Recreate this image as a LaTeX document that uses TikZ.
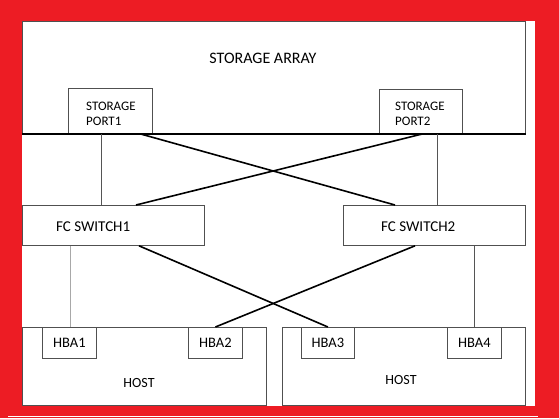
\documentclass[tikz,border=0pt]{standalone}
\usepackage{fontspec}
\setmainfont{Carlito}
\usetikzlibrary{positioning}

\begin{document}
\begin{tikzpicture}[x=1pt,y=-1pt,
    box/.style={draw=boxColour, line width=0.8pt, inner sep=0pt, anchor=north west},
    hbabox/.style={box, minimum width=54, minimum height=31, font=\fontsize{14.5}{16}\selectfont},
    boxtext/.style={inner sep=0pt, font=\fontsize{#1}{#1}\selectfont},
    portlink/.style={draw=linkColour, line width=0.7pt},
    crosslink/.style={draw=black, line width=1.6pt}]

    \definecolor{frameColour}{HTML}{ED1C24}
    \definecolor{boxColour}{HTML}{505050}
    \definecolor{linkColour}{HTML}{555555}
    \definecolor{paleColour}{HTML}{A8A8A8}

    % Draw red frame and white sheet
    \fill[frameColour] (0,0) rectangle (559,418);
    \fill[white] (22,21) rectangle (535,406);
    \draw[white, line width=0.8pt] (8,416) -- (538,416);

    % Storage array with its two ports
    \node[box, minimum width=503, minimum height=112] (array) at (22,21) {};
    \node[boxtext=16] (arraytext) at (263,58) {STORAGE ARRAY};
    \node[box, minimum width=84, minimum height=45] (port1) at (68,88) {};
    \node[box, minimum width=83, minimum height=44] (port2) at (379,89) {};
    \node[boxtext=13, align=left, anchor=west, text height=9pt] (port1text) at (86,121) {STORAGE\\[2pt]PORT1};
    \node[boxtext=13, align=left, anchor=west, text height=9pt] (port2text) at (395,121) {STORAGE\\[2pt]PORT2};
    \draw[black, line width=2.2pt] (array.south west) -- (array.south east);

    % Switches
    \node[box, minimum width=182, minimum height=40] (switch1) at (22,205) {};
    \node[box, minimum width=182, minimum height=40] (switch2) at (343,205) {};
    \node[boxtext=15, anchor=west] (switch1text) at (56,227) {FC SWITCH1};
    \node[boxtext=15, anchor=west] (switch2text) at (381,227) {FC SWITCH2};

    % Hosts and their adapters
    \node[box, minimum width=244, minimum height=78] (host1) at (22,327) {};
    \node[box, minimum width=243, minimum height=78] (host2) at (282,327) {};
    \node[boxtext=14] (host1text) at (139,383) {HOST};
    \node[boxtext=14] (host2text) at (401,380) {HOST};
    \node[hbabox] (hba1) at (42,327) {HBA1};
    \node[hbabox] (hba2) at (188,327) {HBA2};
    \node[hbabox, minimum width=53] (hba3) at (301,327) {HBA3};
    \node[hbabox] (hba4) at (447,327) {HBA4};

    % Points where the links leave the boxes
    \coordinate (p1down) at ([xshift=33]port1.south west);
    \coordinate (p1cross) at ([xshift=72]port1.south west);
    \coordinate (p2down) at ([xshift=58]port2.south west);
    \coordinate (p2cross) at ([xshift=44]port2.south west);
    \coordinate (s1up) at ([xshift=114]switch1.north west);
    \coordinate (s2up) at ([xshift=52]switch2.north west);
    \coordinate (s1down) at ([xshift=48]switch1.south west);
    \coordinate (s1cross) at ([xshift=117]switch1.south west);
    \coordinate (s2down) at (switch2.south -| hba4.north);
    \coordinate (s2cross) at ([xshift=72]switch2.south west);

    % Draw links between array and switches
    \draw[portlink] (p1down) -- (p1down |- switch1.north);
    \draw[portlink] (p2down) -- (p2down |- switch2.north);
    \draw[crosslink] (p1cross) -- (s2up);
    \draw[crosslink] (p2cross) -- (s1up);

    % Draw links between switches and hosts
    \draw[portlink, draw=paleColour] (s1down) -- (s1down |- hba1.north);
    \draw[portlink] (s2down) -- (hba4.north);
    \draw[crosslink] (s1cross) -- (hba3.north);
    \draw[crosslink] (s2cross) -- (hba2.north);

\end{tikzpicture}
\end{document}
